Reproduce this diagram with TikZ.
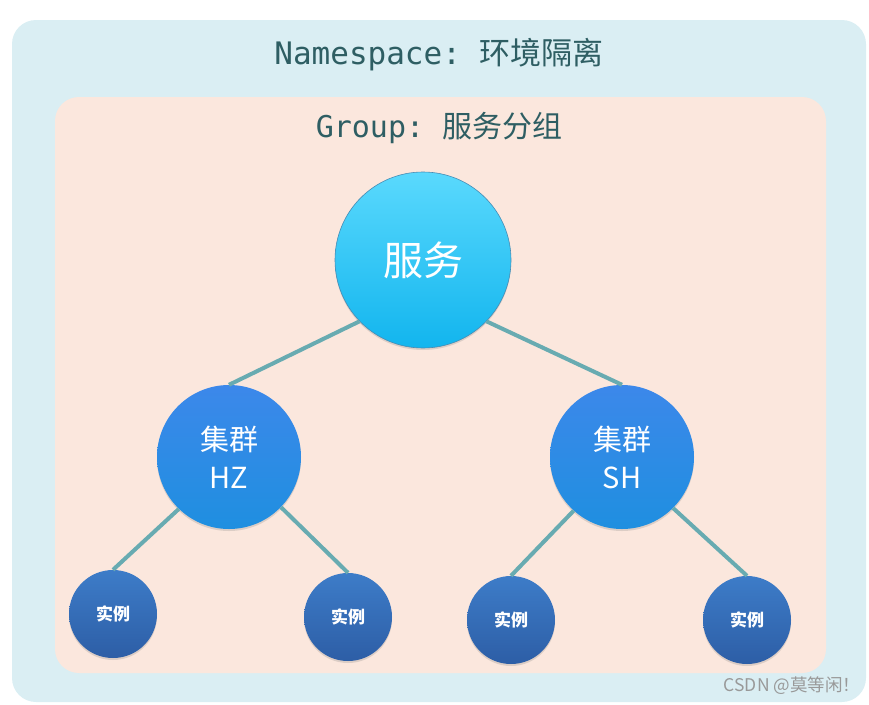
\documentclass[tikz,border=0pt]{standalone}
\usepackage{fontspec}
\setmainfont{Noto Sans CJK SC}
\setmonofont{DejaVu Sans Mono}
\newfontfamily\cjk{Noto Sans CJK SC}
\usetikzlibrary{shadows}

\definecolor{nsbg}{HTML}{DAEEF3}
\definecolor{groupbg}{HTML}{FBE7DD}
\definecolor{titleteal}{HTML}{2E5E63}
\definecolor{linkteal}{HTML}{68ABB1}

\begin{document}
\begin{tikzpicture}[x=1pt,y=-1pt]
  \tikzset{
    area/.style={rounded corners=24pt},
    heading/.style={text=titleteal, font=\ttfamily\fontsize{31}{34}\selectfont},
    bubble/.style={circle, inner sep=0pt, align=center, text=white,
      drop shadow={opacity=0.25, shadow xshift=0pt, shadow yshift=-2pt}},
    service/.style={bubble, minimum size=176pt, draw={rgb,255:red,70;green,140;blue,180}, line width=0.6pt,
      top color={rgb,255:red,90;green,217;blue,253}, bottom color={rgb,255:red,18;green,181;blue,238},
      font=\fontsize{40}{44}\selectfont},
    cluster/.style={bubble, minimum size=144pt,
      top color={rgb,255:red,60;green,136;blue,234}, bottom color={rgb,255:red,31;green,143;blue,224},
      font=\fontsize{29}{38}\selectfont},
    instance/.style={bubble, minimum size=88pt,
      top color={rgb,255:red,61;green,124;blue,200}, bottom color={rgb,255:red,45;green,94;blue,166},
      font=\bfseries\fontsize{17}{20}\selectfont},
    link/.style={draw=linkteal, line width=4pt}
  }

  \useasboundingbox (0,0) rectangle (869,704);
  \fill[nsbg, area] (12,20) rectangle (866,702);
  \fill[groupbg, area] (55,97) rectangle (826,673);

  \node[heading] (nstitle) at (439,55) {Namespace: \cjk 环境隔离};
  \node[heading, font=\ttfamily\fontsize{30}{34}\selectfont] (grouptitle) at (439,128) {Group: \cjk 服务分组};

  % tree
  \node[service] (svc) at (423,260) {服务};
  \node[cluster] (hz) at (229,457) {集群\\HZ};
  \node[cluster] (sh) at (622,457) {集群\\SH};
  \node[instance] (hza) at (113,614) {实例};
  \node[instance] (hzb) at (348,617) {实例};
  \node[instance] (sha) at (511,620) {实例};
  \node[instance] (shb) at (747,620) {实例};

  \draw[link] (svc.-136) -- (hz.north);
  \draw[link] (svc.-44) -- (sh.north);
  \draw[link] (hz.-134) -- (hza.north);
  \draw[link] (hz.-44) -- (hzb.north);
  \draw[link] (sh.-132) -- (sha.north);
  \draw[link] (sh.-45) -- (shb.north);

  \node[text=gray!80, font=\fontsize{17.5}{20}\selectfont] (mark) at (792,686) {CSDN @莫等闲！};
\end{tikzpicture}
\end{document}
